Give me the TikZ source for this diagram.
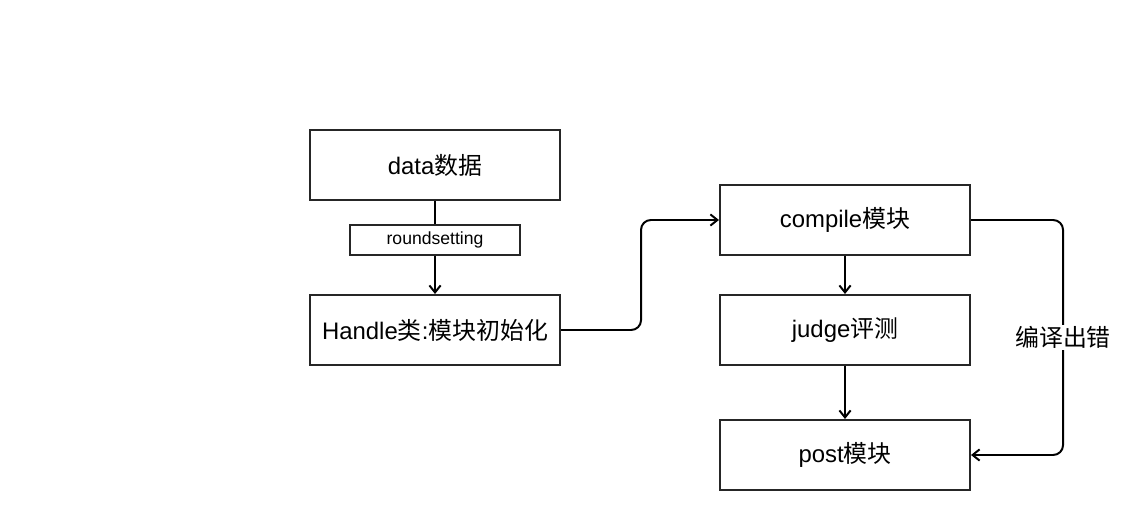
\documentclass[tikz,border=0pt]{standalone}
\usepackage{fontspec}
\setmainfont{Liberation Sans}
\newfontfamily\cjk{Noto Sans CJK SC}
\usetikzlibrary{arrows.meta}
\begin{document}
\begin{tikzpicture}[x=0.025cm,y=-0.025cm,>={Straight Barb[length=5pt,width=8pt]},
	box/.style={draw=black!85,line width=1.4pt,minimum width=6.25cm,minimum height=1.75cm,font=\fontsize{17}{20}\selectfont},
	tag/.style={draw=black!85,line width=1.1pt,minimum width=4.25cm,minimum height=0.75cm,fill=white,font=\fontsize{12.5}{15}\selectfont},
	link/.style={line width=1.4pt,rounded corners=7pt}]
	\useasboundingbox (0,0) rectangle (1130,510);
	\node[box] (data) at (435,165) {data{\cjk 数据}};
	\node[tag] (rs) at (435,240) {roundsetting};
	\node[box] (handle) at (435,330) {Handle{\cjk 类}:{\cjk 模块初始化}};
	\node[box] (compile) at (845,220) {compile{\cjk 模块}};
	\node[box] (judge) at (845,330) {judge{\cjk 评测}};
	\node[box] (post) at (845,455) {post{\cjk 模块}};
	\draw[link] (data)--(rs);
	\draw[link,->] (rs)--(handle);
	\draw[link,->] (handle.east)--++(80,0)|-(compile.west);
	\draw[link,->] (compile)--(judge);
	\draw[link,->] (judge)--(post);
	\draw[link,->] (compile.east)--++(92,0)|-(post.east)node[pos=0.25,fill=white,inner sep=1pt,font=\fontsize{17}{20}\selectfont]{\cjk 编译出错};
\end{tikzpicture}
\end{document}
